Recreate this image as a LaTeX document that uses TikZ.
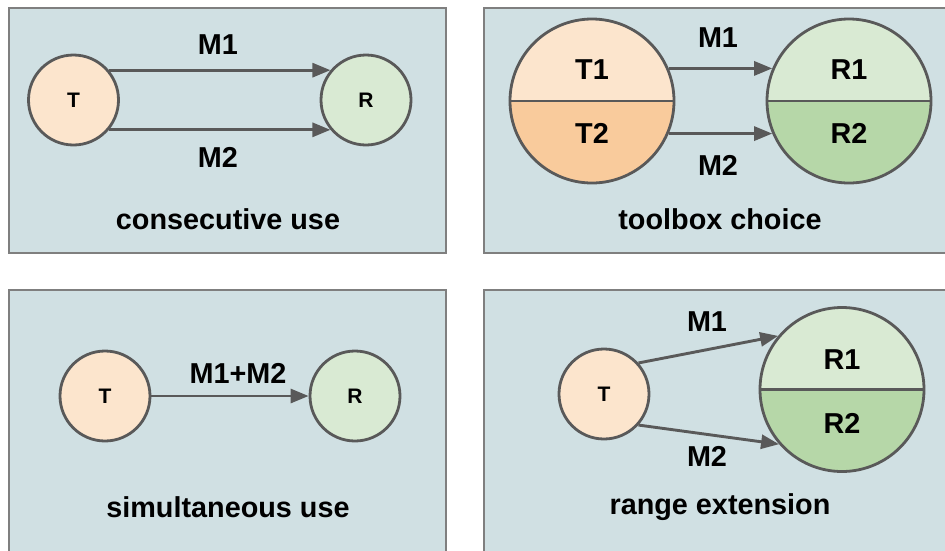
\documentclass[tikz,border=0pt]{standalone}
\usepackage{fontspec}
\setmainfont{Liberation Sans}
\usetikzlibrary{arrows.meta}
\definecolor{panelfill}{HTML}{D0E0E3}
\definecolor{panelline}{HTML}{7F7F7F}
\definecolor{edge}{HTML}{595959}
\definecolor{toolA}{HTML}{FCE5CD}
\definecolor{toolB}{HTML}{F9CB9C}
\definecolor{resA}{HTML}{D9EAD3}
\definecolor{resB}{HTML}{B6D7A8}
\begin{document}
\begin{tikzpicture}[x=1pt,y=-1pt,
  panel/.style={fill=panelfill,draw=panelline,line width=1.5pt},
  ball/.style={circle,draw=edge,line width=2.8pt,minimum size=#1,inner sep=0pt},
  small/.style={ball=90pt},
  big/.style={ball=164pt},
  split/.style={path picture={\fill[#1] (path picture bounding box.west) rectangle (path picture bounding box.south east);}},
  divider/.style={draw=edge,line width=2.8pt},
  arr/.style={draw=edge,line width=2.9pt,-{Triangle[length=18pt,width=14pt]}},
  lbl/.style={font=\fontsize{28.8}{31}\selectfont\bfseries,text=black,inner sep=0pt},
  lblsmall/.style={font=\fontsize{21}{24}\selectfont\bfseries,text=black,inner sep=0pt},
  caption/.style={lbl}
]
\useasboundingbox (0,0) rectangle (945,550);
\clip (0,0) rectangle (945,550);
\fill[white] (0,0) rectangle (945,550);

% four panels
\draw[panel] (9,8) rectangle (446,253);
\draw[panel] (484,8) rectangle (960,253);
\draw[panel] (9,290) rectangle (446,570);
\draw[panel] (484,290) rectangle (960,570);

% consecutive use
\node[small,fill=toolA] (ta) at (73.5,100) {};
\node[lblsmall] (tat) at (ta) {T};
\node[small,fill=resA] (ra) at (366,100) {};
\node[lblsmall] (rat) at (ra) {R};
\draw[arr] (ta.40) -- (ra.140);
\draw[arr] (ta.-40) -- (ra.-140);
\node[lbl] (am1) at (218,45) {M1};
\node[lbl] (am2) at (218,157) {M2};
\node[caption] (acap) at (228,219) {consecutive use};

% toolbox choice
\node[big,fill=toolA,split=toolB] (tb) at (592,101) {};
\draw[divider] (tb.west) -- (tb.east);
\node[lbl] (tb1) at (592,70) {T1};
\node[lbl] (tb2) at (592,133) {T2};
\node[big,fill=resA,split=resB] (rb) at (849,101) {};
\draw[divider] (rb.west) -- (rb.east);
\node[lbl] (rb1) at (849,70) {R1};
\node[lbl] (rb2) at (849,133) {R2};
\draw[arr] (tb.23) -- (rb.157);
\draw[arr] (tb.-23) -- (rb.-157);
\node[lbl] (bm1) at (718,38) {M1};
\node[lbl] (bm2) at (718,165) {M2};
\node[caption] (bcap) at (720,219) {toolbox choice};

% simultaneous use
\node[small,fill=toolA] (tc) at (105,396) {};
\node[lblsmall] (tct) at (tc) {T};
\node[small,fill=resA] (rc) at (355,396) {};
\node[lblsmall] (rct) at (rc) {R};
\draw[arr] (tc) -- (rc);
\node[lbl] (cm) at (238,373) {M1+M2};
\node[caption] (ccap) at (228,507) {simultaneous use};

% range extension
\node[small,fill=toolA] (td) at (604,394) {};
\node[lblsmall] (tdt) at (td) {T};
\node[big,fill=resA,split=resB] (rd) at (842,389.5) {};
\draw[divider] (rd.west) -- (rd.east);
\node[lbl] (rd1) at (842,360) {R1};
\node[lbl] (rd2) at (842,423) {R2};
\draw[arr] (td.42) -- (rd.140);
\draw[arr] (td.-42) -- (rd.-139);
\node[lbl] (dm1) at (707,322) {M1};
\node[lbl] (dm2) at (707,456) {M2};
\node[caption] (dcap) at (720,507) {range extension};
\end{tikzpicture}
\end{document}
